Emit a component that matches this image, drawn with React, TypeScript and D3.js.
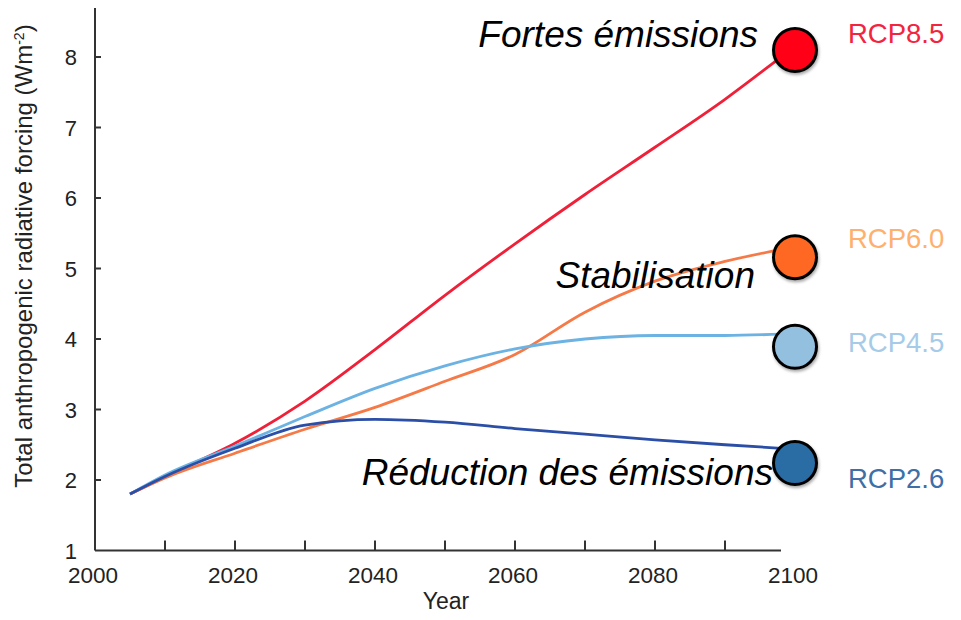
import React from "react";
import * as d3 from "d3";

const years = [2005, 2010, 2020, 2030, 2040, 2050, 2060, 2070, 2080, 2090, 2098];
const rcp85 = [1.8, 2.05, 2.52, 3.12, 3.85, 4.62, 5.35, 6.05, 6.72, 7.4, 8.0];
const rcp60 = [1.8, 2.03, 2.38, 2.72, 3.03, 3.4, 3.78, 4.38, 4.82, 5.1, 5.27];
const rcp45 = [1.8, 2.07, 2.48, 2.9, 3.3, 3.62, 3.86, 4.0, 4.05, 4.05, 4.07];
const rcp26 = [1.8, 2.05, 2.45, 2.78, 2.86, 2.82, 2.73, 2.65, 2.57, 2.5, 2.45];

const seriesNames = ["RCP8.5", "RCP6.0", "RCP4.5", "RCP2.6"];
const markerValues = [8.1, 5.16, 3.89, 2.24];
const labelValues = [8.2, 5.29, 3.82, 1.89];
const annotations = ["Fortes émissions", "Stabilisation", "", "Réduction des émissions"];
const annotationValues = [8.14, 4.72, 0, 1.93];

const xTicks = [2000, 2020, 2040, 2060, 2080, 2100];
const xMinorTicks = [2010, 2020, 2030, 2040, 2050, 2060, 2070, 2080, 2090];
const yTicks = [1, 2, 3, 4, 5, 6, 7, 8];

const lineColors = ["#ef2038", "#f57a48", "#6cb2e2", "#2b4ea6"];
const markerColors = ["#ff0014", "#ff6820", "#94c0e0", "#2a6ca4"];
const labelColors = ["#f2243e", "#ffb06e", "#a6cbe8", "#3e6fa7"];

export default function App() {
  const W = 961, H = 620;
  const x = d3.scaleLinear().domain([2000, 2100]).range([95, 795]);
  const y = d3.scaleLinear().domain([1, 8]).range([550.5, 57]);
  const data = [rcp85, rcp60, rcp45, rcp26];
  const line = d3
    .line<[number, number]>()
    .x((d) => x(d[0]))
    .y((d) => y(d[1]))
    .curve(d3.curveMonotoneX);
  const font = "'Liberation Sans', Arial, Helvetica, sans-serif";
  const axisColor = "#333";
  const axisEnd = x(2098);

  return (
    <svg
      width={W}
      height={H}
      style={{ position: "absolute", left: 0, top: 0, background: "#fff" }}
      fontFamily={font}
    >
      <defs>
        <filter id="sh" x="-30%" y="-30%" width="160%" height="160%">
          <feDropShadow dx="1" dy="2" stdDeviation="1.5" floodColor="#000" floodOpacity="0.35" />
        </filter>
      </defs>
      {/* axes */}
      <line x1={x(2000)} x2={x(2000)} y1={8} y2={y(1)} stroke={axisColor} strokeWidth={2} />
      <line x1={x(2000)} x2={axisEnd} y1={y(1)} y2={y(1)} stroke={axisColor} strokeWidth={2} />
      {yTicks.map((t) => (
        <g key={"y" + t}>
          {t > 1 && (
            <line x1={x(2000)} x2={x(2000) + 6} y1={y(t)} y2={y(t)} stroke={axisColor} strokeWidth={2} />
          )}
          <text x={77} y={y(t) + 8} fontSize={22} fill="#222" textAnchor="end">
            {t}
          </text>
        </g>
      ))}
      {xMinorTicks.map((t) => (
        <line key={"xm" + t} x1={x(t)} x2={x(t)} y1={y(1)} y2={y(1) - 10} stroke={axisColor} strokeWidth={2} />
      ))}
      {xTicks.map((t) => (
        <text key={"x" + t} x={x(t) - 2} y={583} fontSize={22.5} fill="#222" textAnchor="middle">
          {t}
        </text>
      ))}
      <text x={446} y={609} fontSize={23} fill="#222" textAnchor="middle">
        Year
      </text>
      <text
        transform={`translate(32, 256) rotate(-90)`}
        fontSize={24}
        fill="#222"
        textAnchor="middle"
      >
        Total anthropogenic radiative forcing (Wm
        <tspan dy={-8} fontSize={14}>-2</tspan>
        <tspan dy={8}>)</tspan>
      </text>

      {/* lines */}
      {data.map((vals, i) => (
        <path
          key={"l" + i}
          d={line(years.map((yr, j) => [yr, vals[j]] as [number, number])) || ""}
          fill="none"
          stroke={lineColors[i]}
          strokeWidth={2.8}
        />
      ))}

      {/* annotations */}
      {annotations.map((a, i) =>
        a ? (
          <text
            key={"a" + i}
            x={i === 3 ? 773 : i === 1 ? 755 : 758}
            y={y(annotationValues[i])}
            fontSize={37}
            fontStyle="italic"
            fill="#000"
            textAnchor="end"
          >
            {a}
          </text>
        ) : null
      )}

      {/* markers */}
      {markerValues.map((v, i) => (
        <circle
          key={"c" + i}
          cx={x(2100)}
          cy={y(v)}
          r={21.5}
          fill={markerColors[i]}
          stroke="#000"
          strokeWidth={3}
          filter="url(#sh)"
        />
      ))}

      {/* labels */}
      {seriesNames.map((n, i) => (
        <text key={"n" + i} x={848} y={y(labelValues[i])} fontSize={27.5} fill={labelColors[i]}>
          {n}
        </text>
      ))}
    </svg>
  );
}
